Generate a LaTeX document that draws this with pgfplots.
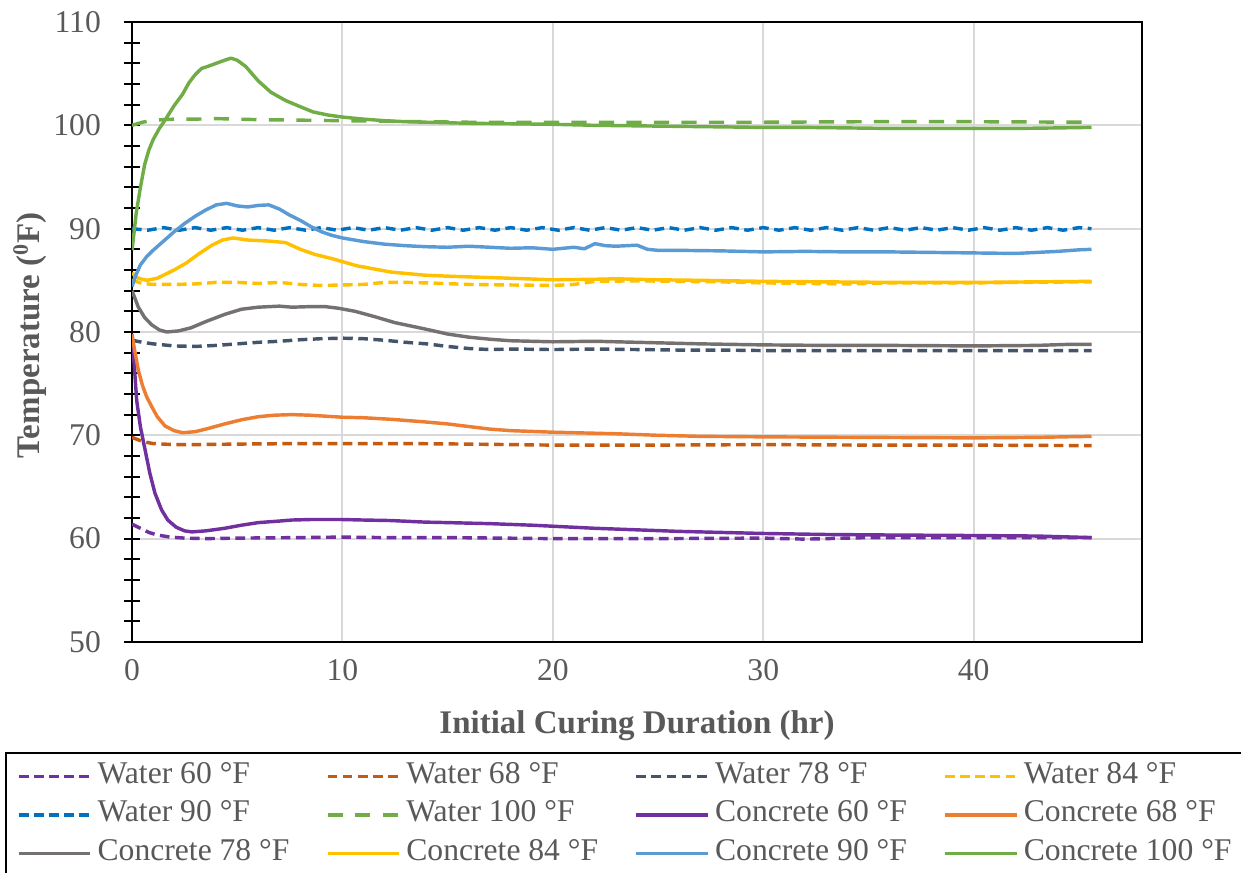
\documentclass[border=0pt]{standalone}
\usepackage{fontspec}
\setmainfont{Liberation Serif}
\usepackage{pgfplots}
\pgfplotsset{compat=1.18}
\definecolor{labelgray}{HTML}{595959}
\definecolor{cpurple}{HTML}{7030A0}
\definecolor{cdorange}{HTML}{C55A11}
\definecolor{cnavy}{HTML}{44546A}
\definecolor{cgold}{HTML}{FFC000}
\definecolor{cdblue}{HTML}{0070C0}
\definecolor{cgreen}{HTML}{70AD47}
\definecolor{corange}{HTML}{ED7D31}
\definecolor{cgray}{HTML}{767171}
\definecolor{cblue}{HTML}{5B9BD5}
\definecolor{gridgray}{HTML}{D9D9D9}
\newcommand\lb[1]{\makebox[82pt][l]{#1}}
\begin{document}
\begin{tikzpicture}
\begin{axis}[
  scale only axis, width=367.2pt, height=225.4pt,
  xmin=0, xmax=48, ymin=50, ymax=110,
  xtick={0,10,20,30,40}, ytick={50,60,70,80,90,100,110},
  minor y tick num=4,
  ytick pos=left, xtick pos=bottom,
  tick align=center,
  major tick length=6pt, minor tick length=6pt,
  y tick style={black, line width=0.8pt},
  x tick style={draw=none},
  xmajorgrids, ymajorgrids,
  grid style={color=gridgray, line width=0.7pt},
  axis line style={black, line width=0.9pt},
  tick label style={font=\fontsize{11.5}{13}\selectfont, text=labelgray},
  yticklabel style={xshift=-4.8pt},
  /pgf/number format/assume math mode=true,
  xlabel={Initial Curing Duration (hr)},
  ylabel={Temperature (\textsuperscript{0}F)},
  label style={font=\bfseries\fontsize{12}{14}\selectfont, text=labelgray},
  xlabel style={at={(axis description cs:0.5,-0.135)}, anchor=center},
  ylabel style={at={(axis description cs:-0.101,0.495)}, anchor=center},
  legend columns=4,
  legend cell align=left,
  legend style={at={(-0.1257,-0.1774)}, anchor=north west, draw=black, line width=0.8pt,
    font=\fontsize{11.5}{13}\selectfont, text=labelgray,
    inner xsep=4pt, inner ysep=1.5pt, column sep=0pt, row sep=0pt,
    nodes={inner xsep=1pt, inner ysep=0pt, text height=9.5pt, text depth=4.5pt},
    /tikz/every odd column/.style={column sep=1pt}},
  legend image code/.code={\draw[#1] (0pt,0pt) -- (26pt,0pt);},
  every axis plot/.append style={line width=1.25pt, line join=round},
]
% Water series
\addplot[cpurple, dash pattern=on 3.5pt off 2pt] coordinates {(0,61.4) (0.4,61.0) (0.8,60.6) (1.2,60.35) (1.8,60.15) (2.5,60.05) (3.5,60.0) (5,60.05) (8,60.1) (10,60.15) (12,60.1) (15,60.1) (20,60.0) (25,60.0) (30,60.05) (32,59.95) (35,60.1) (40,60.1) (45.6,60.1)};
\addlegendentry{\lb{Water 60 °F}}
\addplot[cdorange, dash pattern=on 3.5pt off 2pt] coordinates {(0,69.8) (0.5,69.4) (1,69.2) (2,69.1) (3,69.1) (5,69.15) (8,69.2) (10,69.2) (13,69.2) (16,69.15) (20,69.05) (25,69.05) (30,69.1) (35,69.05) (40,69.05) (45.6,69.0)};
\addlegendentry{\lb{Water 68 °F}}
\addplot[cnavy, dash pattern=on 3.5pt off 2pt] coordinates {(0,79.2) (0.5,79.0) (1,78.85) (2,78.65) (3,78.6) (4,78.7) (5,78.85) (6,79.0) (7,79.1) (8,79.25) (9,79.35) (10,79.4) (11,79.35) (12,79.2) (13,79.0) (14,78.85) (15,78.6) (16,78.4) (17,78.3) (18,78.35) (20,78.3) (22,78.35) (24,78.3) (26,78.25) (28,78.25) (30,78.2) (35,78.2) (40,78.2) (45.6,78.2)};
\addlegendentry{\lb{Water 78 °F}}
\addplot[cgold, dash pattern=on 3.5pt off 2pt] coordinates {(0,85.0) (0.5,84.7) (1,84.6) (2,84.6) (3,84.65) (4,84.8) (5,84.8) (6,84.7) (7,84.8) (8,84.6) (9,84.5) (10,84.55) (11,84.6) (12,84.8) (13,84.8) (14,84.75) (16,84.6) (18,84.55) (20,84.5) (21,84.6) (22,84.9) (24,84.95) (26,84.9) (28,84.85) (30,84.75) (32,84.7) (34,84.65) (36,84.75) (38,84.75) (40,84.75) (42,84.8) (45.6,84.85)};
\addlegendentry{Water 84 °F}
\addplot[cdblue, dash pattern=on 3.5pt off 2pt] coordinates {(0,90.0) (0.75,89.85) (1.5,90.1) (2.25,89.85) (3,90.1) (3.75,89.85) (4.5,90.1) (5.25,89.85) (6,90.1) (6.75,89.85) (7.5,90.1) (8.25,89.85) (9,90.1) (9.75,89.85) (10.5,90.1) (11.25,89.85) (12,90.1) (12.75,89.85) (13.5,90.1) (14.25,89.85) (15,90.1) (15.75,89.85) (16.5,90.1) (17.25,89.85) (18,90.1) (18.75,89.85) (19.5,90.1) (20.25,89.85) (21,90.1) (21.75,89.85) (22.5,90.1) (23.25,89.85) (24,90.1) (24.75,89.85) (25.5,90.1) (26.25,89.85) (27,90.1) (27.75,89.85) (28.5,90.1) (29.25,89.85) (30,90.1) (30.75,89.85) (31.5,90.1) (32.25,89.85) (33,90.1) (33.75,89.85) (34.5,90.1) (35.25,89.85) (36,90.1) (36.75,89.85) (37.5,90.1) (38.25,89.85) (39,90.1) (39.75,89.85) (40.5,90.1) (41.25,89.85) (42,90.1) (42.75,89.85) (43.5,90.1) (44.25,89.85) (45,90.1) (45.6,90.0)};
\addlegendentry{\lb{Water 90 °F}}
\addplot[cgreen, dash pattern=on 5.5pt off 4.5pt] coordinates {(0,100.0) (0.5,100.3) (1,100.5) (2,100.6) (3,100.6) (4,100.65) (5,100.6) (6,100.55) (8,100.5) (10,100.45) (12,100.4) (14,100.35) (16,100.3) (20,100.3) (25,100.3) (30,100.3) (35,100.35) (40,100.35) (45.6,100.3)};
\addlegendentry{\lb{Water 100 °F}}
% Concrete series
\addplot[cpurple] coordinates {(0,78.5) (0.1,77.0) (0.22,73.4) (0.4,70.8) (0.62,68.6) (0.85,66.3) (1.09,64.4) (1.4,62.8) (1.7,61.8) (2.1,61.1) (2.5,60.75) (2.84,60.65) (3.5,60.75) (4.4,61.0) (5.2,61.3) (6.0,61.55) (7.0,61.7) (7.6,61.8) (8.5,61.85) (9.96,61.85) (11,61.8) (12.3,61.75) (13.9,61.6) (15,61.55) (16,61.5) (17,61.45) (19,61.3) (21,61.1) (22,61.0) (24,60.85) (26,60.7) (28,60.6) (30,60.5) (33,60.4) (36,60.35) (40,60.3) (43,60.25) (45.6,60.1)};
\addlegendentry{\lb{Concrete 60 °F}}
\addplot[corange] coordinates {(0,79.8) (0.1,78.5) (0.3,76.3) (0.5,74.8) (0.7,73.7) (0.93,72.8) (1.2,71.8) (1.57,70.9) (2.0,70.45) (2.4,70.25) (3.0,70.35) (3.6,70.65) (4.4,71.1) (5.2,71.5) (6.0,71.8) (6.8,71.95) (7.6,72.0) (8.4,71.95) (9.2,71.85) (10,71.75) (11,71.7) (12.3,71.55) (13.9,71.3) (15,71.1) (16,70.85) (17,70.6) (18,70.45) (20,70.3) (22,70.2) (23,70.15) (25,70.0) (27,69.9) (30,69.85) (35,69.8) (40,69.75) (43,69.8) (45.6,69.9)};
\addlegendentry{Concrete 68 °F}
\addplot[cgray] coordinates {(0,84.0) (0.15,83.2) (0.3,82.4) (0.6,81.4) (0.93,80.7) (1.3,80.2) (1.65,80.0) (2.2,80.1) (2.8,80.4) (3.5,81.0) (4.4,81.7) (5.2,82.2) (6.0,82.4) (7.0,82.5) (7.6,82.4) (8.4,82.45) (9.2,82.45) (9.8,82.3) (10.6,82.0) (11.5,81.5) (12.5,80.9) (13.9,80.3) (15,79.8) (16,79.5) (17,79.3) (18,79.15) (20,79.05) (22,79.1) (23,79.05) (25,78.95) (27,78.85) (30,78.75) (33,78.7) (36,78.7) (40,78.65) (43,78.7) (44.5,78.8) (45.6,78.8)};
\addlegendentry{\lb{Concrete 78 °F}}
\addplot[cgold] coordinates {(0,85.7) (0.3,85.2) (0.7,85.0) (1.2,85.2) (2.0,86.0) (2.6,86.7) (3.2,87.6) (3.8,88.4) (4.3,88.9) (4.8,89.1) (5.5,88.9) (6.5,88.8) (7.3,88.65) (8.0,88.0) (8.7,87.5) (9.5,87.1) (10.7,86.4) (12.3,85.8) (13.9,85.5) (15,85.4) (16.5,85.3) (18,85.2) (20,85.05) (22,85.1) (23,85.15) (25,85.05) (27,85.0) (30,84.9) (33,84.85) (36,84.8) (40,84.8) (43,84.85) (45.6,84.9)};
\addlegendentry{\lb{Concrete 84 °F}}
\addplot[cblue] coordinates {(0,84.4) (0.2,85.6) (0.4,86.5) (0.7,87.3) (1.0,87.9) (1.5,88.8) (2.0,89.7) (2.5,90.5) (3.0,91.2) (3.5,91.8) (4.0,92.3) (4.5,92.45) (5.0,92.2) (5.5,92.1) (6.0,92.25) (6.5,92.3) (7.0,91.9) (7.5,91.3) (8.0,90.8) (8.5,90.2) (9.0,89.7) (9.5,89.35) (10,89.1) (11,88.75) (12,88.5) (13,88.35) (14,88.25) (15,88.2) (16,88.3) (17,88.2) (18,88.1) (19,88.15) (20,88.0) (21,88.2) (21.5,88.05) (22,88.55) (22.5,88.35) (23,88.3) (24,88.4) (24.5,88.0) (25,87.9) (26,87.9) (28,87.85) (30,87.75) (32,87.8) (34,87.75) (36,87.75) (38,87.7) (40,87.65) (42,87.6) (43,87.7) (44,87.8) (45,87.95) (45.6,88.0)};
\addlegendentry{\lb{Concrete 90 °F}}
\addplot[cgreen] coordinates {(0,87.9) (0.2,91.5) (0.4,94.0) (0.6,96.2) (0.8,97.6) (1.0,98.6) (1.3,99.7) (1.6,100.6) (2.0,101.9) (2.4,103.0) (2.7,104.1) (3.0,104.9) (3.3,105.5) (3.6,105.7) (4.0,106.0) (4.4,106.3) (4.7,106.5) (5.0,106.3) (5.4,105.7) (6.0,104.3) (6.6,103.2) (7.3,102.4) (8.0,101.8) (8.6,101.3) (9.3,101.0) (10,100.8) (11,100.6) (12,100.45) (13,100.35) (14,100.3) (15,100.25) (16,100.2) (18,100.15) (20,100.1) (22,100.0) (24,99.95) (26,99.9) (28,99.85) (30,99.8) (32,99.8) (34,99.75) (36,99.7) (38,99.7) (40,99.7) (42,99.7) (44,99.75) (45.6,99.8)};
\addlegendentry{Concrete 100 °F}
\end{axis}
\pgfresetboundingbox
\path (-48pt,-84pt) rectangle (403.2pt,233.4pt);
\end{tikzpicture}
\end{document}
